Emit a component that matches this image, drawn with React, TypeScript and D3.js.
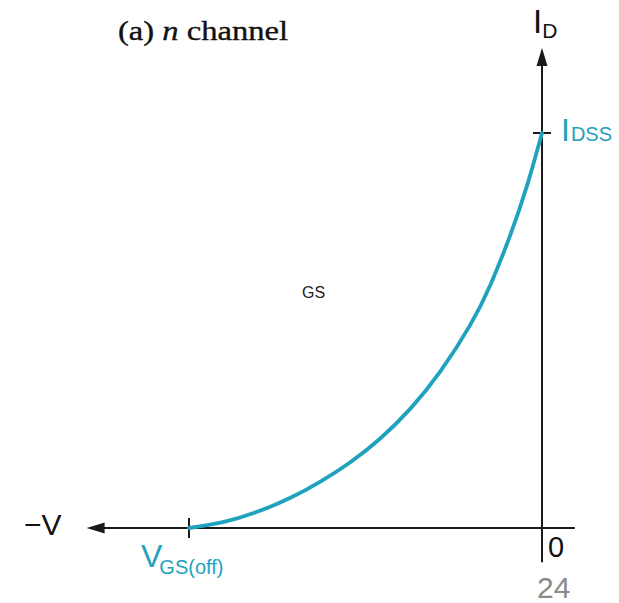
import React from "react";
import * as d3 from "d3";

// Transfer curve (V normalised to VGS(off) = -1, I normalised to IDSS = 1)
const vgs = [-1, -0.904, -0.807, -0.714, -0.629, -0.544, -0.459, -0.374, -0.289, -0.204, -0.147, -0.091, -0.042, 0];
const idrain = [0, 0.015, 0.041, 0.076, 0.117, 0.166, 0.226, 0.301, 0.395, 0.513, 0.614, 0.739, 0.868, 1];

const title = ["(a) ", "n", " channel"];
const xTickLabels = ["V", "GS(off)"];
const yTickLabels = ["I", "DSS"];
const pageNumber = "24";

const W = 619, H = 603;
const TEAL = "#1fa2bd";
const INK = "#1a1a1a";

export default function App() {
  const x = d3.scaleLinear().domain([-1, 0]).range([189, 542]);
  const y = d3.scaleLinear().domain([0, 1]).range([528, 133]);
  const pts = vgs.map((v, i) => [v, idrain[i]] as [number, number]);
  const line = d3.line<[number, number]>().x(d => x(d[0])).y(d => y(d[1])).curve(d3.curveNatural);

  const xLeft = x(-1.29), xRight = x(0.093);
  const yTop = y(1.215), yBottom = y(-0.087);
  const x0 = x(0), y0 = y(0);
  const sans = "Liberation Sans, Arial, sans-serif";

  return (
    <svg width={W} height={H} style={{ position: "absolute", left: 0, top: 0, background: "#fff" }}>
      <text x={118} y={40} fontFamily="Liberation Serif, Times New Roman, serif" fontSize={27} fill="#111"
        stroke="#111" strokeWidth={0.35} textLength={170} lengthAdjust="spacingAndGlyphs">
        {title[0]}<tspan fontStyle="italic">{title[1]}</tspan>{title[2]}
      </text>

      {/* axes */}
      <line x1={xLeft + 14} y1={y0} x2={xRight} y2={y0} stroke={INK} strokeWidth={2} />
      <path d={`M${xLeft},${y0} L${xLeft + 18},${y0 - 5.5} L${xLeft + 18},${y0 + 5.5} Z`} fill={INK} />
      <line x1={x0} y1={yTop + 14} x2={x0} y2={yBottom} stroke={INK} strokeWidth={2} />
      <path d={`M${x0},${yTop} L${x0 - 5.5},${yTop + 18} L${x0 + 5.5},${yTop + 18} Z`} fill={INK} />

      {/* ticks */}
      <line x1={x(-1)} y1={y0 - 10} x2={x(-1)} y2={y0 + 10} stroke={INK} strokeWidth={2} />
      <line x1={x0 - 9} y1={y(1)} x2={x0 + 9} y2={y(1)} stroke={INK} strokeWidth={2} />

      {/* curve */}
      <path d={line(pts) || ""} fill="none" stroke={TEAL} strokeWidth={3.8} strokeLinecap="round" />

      {/* labels */}
      <text x={533} y={33} fontFamily={sans} fontSize={33} fill="#111">
        I<tspan fontSize={21} dx={0} dy={5}>D</tspan>
      </text>
      <text x={561} y={141} fontFamily={sans} fontSize={32} fill={TEAL}>
        {yTickLabels[0]}<tspan fontSize={20} dx={1}>{yTickLabels[1]}</tspan>
      </text>
      <text x={24} y={535} fontFamily={sans} fontSize={30} fill="#111">−V</text>
      <text x={141} y={567} fontFamily={sans} fontSize={32} fill={TEAL}>
        {xTickLabels[0]}<tspan fontSize={20} dy={7} dx={-3}>{xTickLabels[1]}</tspan>
      </text>
      <text x={548} y={557} fontFamily={sans} fontSize={29} fill="#111">0</text>
      <text x={302} y={298} fontFamily={sans} fontSize={16} fill="#222">GS</text>
      <text x={537} y={598} fontFamily={sans} fontSize={30} fill="#8a8a8a">{pageNumber}</text>
    </svg>
  );
}
